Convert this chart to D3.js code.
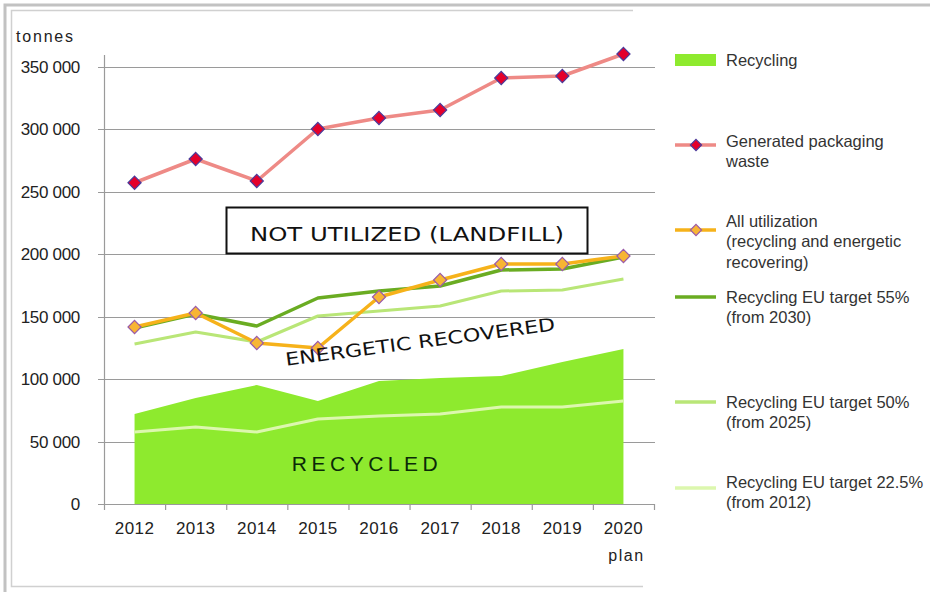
<!DOCTYPE html>
<html>
<head>
<meta charset="utf-8">
<script src="https://cdn.jsdelivr.net/npm/d3@7"></script>
<style>
  body { margin: 0; background: #fff; }
  svg { display: block; }
</style>
</head>
<body>
<div id="chart"></div>
<script>
// Data (tonnes)
const years = ['2012', '2013', '2014', '2015', '2016', '2017', '2018', '2019', '2020'];
const recycling = [72000, 84800, 95200, 82400, 98400, 100800, 102400, 113600, 124000];
const generated = [257000, 276000, 258400, 300000, 308800, 315200, 340800, 342400, 360000];
const allUtilization = [141600, 152800, 128800, 124800, 165600, 179200, 192000, 192000, 198400];
const target55 = [140800, 152000, 142400, 164800, 170400, 174400, 187200, 188000, 197600];
const target50 = [128000, 137600, 129600, 150400, 154400, 158400, 170400, 171200, 180000];
const target225 = [57600, 61600, 57600, 68000, 70400, 72000, 77600, 77600, 82400];
const yTicks = [0, 50000, 100000, 150000, 200000, 250000, 300000, 350000];

const width = 930, height = 592;
const font = '"Liberation Sans", Arial, sans-serif';
const wideFont = '"DejaVu Sans", Verdana, sans-serif';

const svg = d3.select('#chart').append('svg')
    .attr('width', width)
    .attr('height', height);

// Outer frame
svg.append('path')
    .attr('d', 'M5,592 V5 H930')
    .attr('fill', 'none')
    .attr('stroke', '#c2c2c2')
    .attr('stroke-width', 3);
svg.append('path')
    .attr('d', 'M633,10.5 H11.5 V586.5 H643')
    .attr('fill', 'none')
    .attr('stroke', '#d0d0d0')
    .attr('stroke-width', 1.5);

// Scales
const x = d3.scaleBand().domain(years).range([104, 654]);
const y = d3.scaleLinear().domain([0, 350000]).range([504, 66.5]);
const cx = d => x(d) + x.bandwidth() / 2;

// Gridlines
svg.append('g')
    .selectAll('line')
    .data(yTicks.filter(d => d > 0))
    .join('line')
    .attr('x1', 98).attr('x2', 655)
    .attr('y1', d => Math.round(y(d)) + 0.5)
    .attr('y2', d => Math.round(y(d)) + 0.5)
    .attr('stroke', '#9a9a9a')
    .attr('stroke-width', 1.2);

// Recycling area
const area = d3.area()
    .x((d, i) => cx(years[i]))
    .y0(y(0))
    .y1(d => y(d));
svg.append('path')
    .datum(recycling)
    .attr('d', area)
    .attr('fill', '#8eea2e');

// Line generator
const line = d3.line().x((d, i) => cx(years[i])).y(d => y(d));

const lineSeries = [
    { data: target225, color: '#dcf7ae', width: 3 },
    { data: target50, color: '#b9e677', width: 3 },
    { data: target55, color: '#6aac22', width: 3.5 },
    { data: allUtilization, color: '#f6b21a', width: 3.5 },
    { data: generated, color: '#ee8a86', width: 3.5 }
];
lineSeries.forEach(s => {
    svg.append('path')
        .datum(s.data)
        .attr('d', line)
        .attr('fill', 'none')
        .attr('stroke', s.color)
        .attr('stroke-width', s.width)
        .attr('stroke-linejoin', 'round');
});

// Diamond markers
const diamond = d3.symbol().type(d3.symbolDiamond2).size(110);
function markers(data, fill, stroke) {
    svg.append('g')
        .selectAll('path')
        .data(data)
        .join('path')
        .attr('d', diamond)
        .attr('transform', (d, i) => `translate(${cx(years[i])},${y(d)})`)
        .attr('fill', fill)
        .attr('stroke', stroke)
        .attr('stroke-width', 1.2);
}
markers(allUtilization, '#f7b534', '#9a5aa8');
markers(generated, '#e4002b', '#4a3a9a');

// Axes
svg.append('line')
    .attr('x1', 104.5).attr('x2', 104.5)
    .attr('y1', 55).attr('y2', 504)
    .attr('stroke', '#9a9a9a').attr('stroke-width', 1.2);

const xAxis = svg.append('g')
    .attr('transform', `translate(0,${504.5})`)
    .call(d3.axisBottom(x).tickSize(0).tickPadding(17));
xAxis.select('.domain').attr('stroke', '#9a9a9a').attr('stroke-width', 1.2)
    .attr('d', 'M98,0H655');
xAxis.selectAll('text')
    .attr('font-family', font).attr('font-size', 17).attr('fill', '#222')
    .attr('letter-spacing', 0.4);
// tick marks between categories
svg.append('g')
    .selectAll('line')
    .data(years.concat(['end']))
    .join('line')
    .attr('x1', (d, i) => 104.5 + i * x.step())
    .attr('x2', (d, i) => 104.5 + i * x.step())
    .attr('y1', 504).attr('y2', 510)
    .attr('stroke', '#9a9a9a').attr('stroke-width', 1.2);

svg.append('text')
    .attr('x', cx('2020') + 3).attr('y', 561)
    .attr('text-anchor', 'middle')
    .attr('font-family', font).attr('font-size', 16).attr('fill', '#222')
    .attr('letter-spacing', 1.5)
    .text('plan');

const fmt = v => v === 0 ? '0' : d3.format(',')(v).replace(/,/g, ' ');
svg.append('g')
    .selectAll('text')
    .data(yTicks)
    .join('text')
    .attr('x', 80)
    .attr('y', d => y(d) + 6)
    .attr('text-anchor', 'end')
    .attr('font-family', font).attr('font-size', 17).attr('fill', '#222')
    .attr('letter-spacing', -0.3)
    .text(fmt);

svg.append('text')
    .attr('x', 16).attr('y', 42)
    .attr('font-family', font).attr('font-size', 16).attr('fill', '#222')
    .attr('letter-spacing', 1.8)
    .text('tonnes');

// Annotations
svg.append('rect')
    .attr('x', 226.5).attr('y', 207.5)
    .attr('width', 361).attr('height', 46)
    .attr('fill', '#fff').attr('stroke', '#111').attr('stroke-width', 2);
svg.append('text')
    .attr('x', 407).attr('y', 241)
    .attr('text-anchor', 'middle')
    .attr('font-family', wideFont).attr('font-size', 20).attr('fill', '#111')
    .attr('textLength', 314).attr('lengthAdjust', 'spacingAndGlyphs')
    .text('NOT UTILIZED (LANDFILL)');

svg.append('text')
    .attr('transform', 'translate(421,348) rotate(-7.5)')
    .attr('text-anchor', 'middle')
    .attr('font-family', wideFont).attr('font-size', 18).attr('fill', '#111')
    .attr('textLength', 272).attr('lengthAdjust', 'spacingAndGlyphs')
    .text('ENERGETIC RECOVERED');

svg.append('text')
    .attr('x', 367).attr('y', 471)
    .attr('text-anchor', 'middle')
    .attr('font-family', font).attr('font-size', 21).attr('fill', '#0b2a08')
    .attr('letter-spacing', 4.5)
    .text('RECYCLED');

// Legend
const legendItems = [
    { type: 'rect', color: '#8eea2e', y: 60, lines: ['Recycling'] },
    { type: 'line', color: '#ee8a86', marker: '#e4002b', mstroke: '#4a3a9a', y: 145, lines: ['Generated packaging', 'waste'] },
    { type: 'line', color: '#f6b21a', marker: '#f7b534', mstroke: '#9a5aa8', y: 230, lines: ['All utilization', '(recycling and energetic', 'recovering)'] },
    { type: 'line', color: '#6aac22', y: 297, lines: ['Recycling EU target 55%', '(from 2030)'] },
    { type: 'line', color: '#b9e677', y: 402, lines: ['Recycling EU target 50%', '(from 2025)'] },
    { type: 'line', color: '#dcf7ae', y: 488, lines: ['Recycling EU target 22.5%', '(from 2012)'] }
];
const textTop = [60, 141, 221, 297, 402, 482];

const legend = svg.append('g');
legendItems.forEach((item, i) => {
    if (item.type === 'rect') {
        legend.append('rect')
            .attr('x', 675).attr('y', item.y - 6)
            .attr('width', 41).attr('height', 12)
            .attr('fill', item.color);
    } else {
        legend.append('line')
            .attr('x1', 675).attr('x2', 716)
            .attr('y1', item.y).attr('y2', item.y)
            .attr('stroke', item.color).attr('stroke-width', 3.5);
        if (item.marker) {
            legend.append('path')
                .attr('d', d3.symbol().type(d3.symbolDiamond2).size(80))
                .attr('transform', `translate(696,${item.y})`)
                .attr('fill', item.marker)
                .attr('stroke', item.mstroke).attr('stroke-width', 1.2);
        }
    }
    const t = legend.append('text')
        .attr('font-family', font).attr('font-size', 16.5).attr('fill', '#333');
    item.lines.forEach((l, j) => {
        t.append('tspan')
            .attr('x', 726)
            .attr('y', textTop[i] + 5.5 + j * 20.5)
            .text(l);
    });
});
</script>
</body>
</html>
